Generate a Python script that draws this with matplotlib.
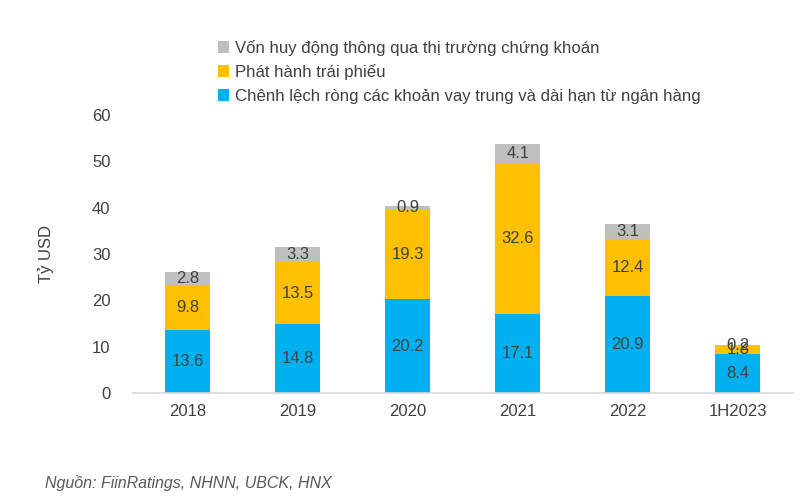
import matplotlib
matplotlib.use("Agg")
import matplotlib.pyplot as plt
from matplotlib.patches import Patch

plt.rcParams['font.family'] = ['Liberation Sans', 'DejaVu Sans']

categories = ["2018", "2019", "2020", "2021", "2022", "1H2023"]
bank_loans = [13.6, 14.8, 20.2, 17.1, 20.9, 8.4]
bonds = [9.8, 13.5, 19.3, 32.6, 12.4, 1.8]
equity = [2.8, 3.3, 0.9, 4.1, 3.1, 0.2]

series_names = [
    "Chênh lệch ròng các khoản vay trung và dài hạn từ ngân hàng",
    "Phát hành trái phiếu",
    "Vốn huy động thông qua thị trường chứng khoán",
]
colors = ["#00B0F0", "#FFC000", "#BFBFBF"]
text_color = "#404040"

fig = plt.figure(figsize=(8, 5.01), dpi=100)
ax = fig.add_axes([0.166, 0.2156, 0.825, 0.5549])

x = list(range(len(categories)))
width = 0.41
bottoms = [0] * len(categories)
for vals, col in zip([bank_loans, bonds, equity], colors):
    ax.bar(x, vals, width, bottom=bottoms, color=col, zorder=2)
    for xi, v, b in zip(x, vals, bottoms):
        ax.text(xi, b + v / 2, f"{v:.1f}", ha="center", va="center",
                fontsize=12, color=text_color, zorder=3)
    bottoms = [b + v for b, v in zip(bottoms, vals)]

ax.set_xlim(-0.5, 5.5)
ax.set_ylim(0, 60)
ax.set_yticks(range(0, 61, 10))
ax.set_xticks(x)
ax.set_xticklabels(categories)
ax.tick_params(axis="both", length=0, labelsize=12, colors=text_color, pad=8)
ax.tick_params(axis="y", pad=16)
for s in ["top", "right", "left"]:
    ax.spines[s].set_visible(False)
ax.spines["bottom"].set_color("#D9D9D9")
ax.spines["bottom"].set_linewidth(1.2)

fig.text(46 / 800, 1 - 254 / 501, "Tỷ USD", rotation=90, ha="center", va="center",
         fontsize=12, color=text_color)

handles = [Patch(facecolor=c, edgecolor="none") for c in colors[::-1]]
leg = fig.legend(handles, series_names[::-1], loc="upper left",
                 bbox_to_anchor=(211 / 800, 1 - 33 / 501), frameon=False,
                 fontsize=12.1, handlelength=0.7, handleheight=0.7,
                 handletextpad=0.35, labelspacing=0.5, borderaxespad=0)
for t in leg.get_texts():
    t.set_color(text_color)

fig.text(45 / 800, 1 - 483 / 501, "Nguồn: FiinRatings, NHNN, UBCK, HNX",
         ha="left", va="center", fontsize=11.5, style="italic", color="#595959")

fig.savefig("out.png", dpi=100, facecolor="white")
